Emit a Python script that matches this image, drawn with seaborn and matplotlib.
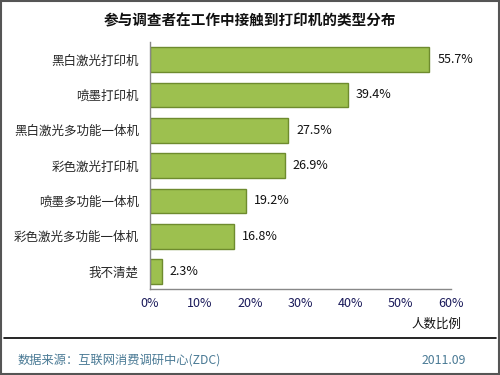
import matplotlib.pyplot as plt
import matplotlib.patches as mpatches
from matplotlib.lines import Line2D
import seaborn as sns
import pandas as pd
import numpy as np

categories = ['黑白激光打印机', '喷墨打印机', '黑白激光多功能一体机', '彩色激光打印机',
              '喷墨多功能一体机', '彩色激光多功能一体机', '我不清楚']
values = [55.7, 39.4, 27.5, 26.9, 19.2, 16.8, 2.3]
xticks = [0, 10, 20, 30, 40, 50, 60]

sns.set_theme(style="white")
plt.rcParams['font.family'] = ['Noto Sans CJK SC', 'DejaVu Sans']

df = pd.DataFrame({'type': categories, 'pct': values})

fig = plt.figure(figsize=(5, 3.75), dpi=100)
ax = fig.add_axes([0.30, 0.229, 0.602, 0.659])

sns.barplot(data=df, y='type', x='pct', orient='h', color='#9DC04F',
            width=0.7, edgecolor='#6E8B2E', linewidth=1.0, saturation=1, ax=ax)

for i, v in enumerate(values):
    ax.text(v + 1.6, i, f'{v}%', va='center', ha='left', fontsize=9, color='#111111')

ax.set_xlim(0, 60)
ax.set_ylim(len(categories) - 0.5, -0.5)
ax.set_xticks(xticks)
ax.set_xticklabels([f'{t}%' for t in xticks], fontsize=9, color='#1a1a5a')
ax.tick_params(axis='x', direction='in', length=4, color='#888888', pad=6)
ax.tick_params(axis='y', length=0, labelsize=9, pad=8)
ax.set_yticks(np.arange(len(categories) + 1) - 0.5, minor=True)
ax.tick_params(axis='y', which='minor', direction='in', length=4, color='#888888')
ax.set_xlabel('')
ax.set_ylabel('')
for s in ['top', 'right']:
    ax.spines[s].set_visible(False)
for s in ['left', 'bottom']:
    ax.spines[s].set_color('#888888')
    ax.spines[s].set_linewidth(1.0)

fig.text(0.5, 0.946, '参与调查者在工作中接触到打印机的类型分布', ha='center', va='center',
         fontsize=10.5, fontweight='bold', color='#111111')
fig.text(0.922, 1 - 324 / 375, '人数比例', ha='right', va='center', fontsize=9, color='#111111')

fig.add_artist(Line2D([0.008, 0.992], [1 - 338 / 375] * 2, color='black', linewidth=1.2))
fig.text(0.036, 1 - 360 / 375, '数据来源：互联网消费调研中心(ZDC)', ha='left', va='center',
         fontsize=8.8, color='#4A7A95')
fig.text(0.932, 1 - 360 / 375, '2011.09', ha='right', va='center', fontsize=8.8, color='#4A7A95')

fig.add_artist(mpatches.Rectangle((0.002, 0.003), 0.995, 0.994, fill=False,
                                  edgecolor='#555555', linewidth=1.5, transform=fig.transFigure))

fig.savefig('out.png', dpi=100)
